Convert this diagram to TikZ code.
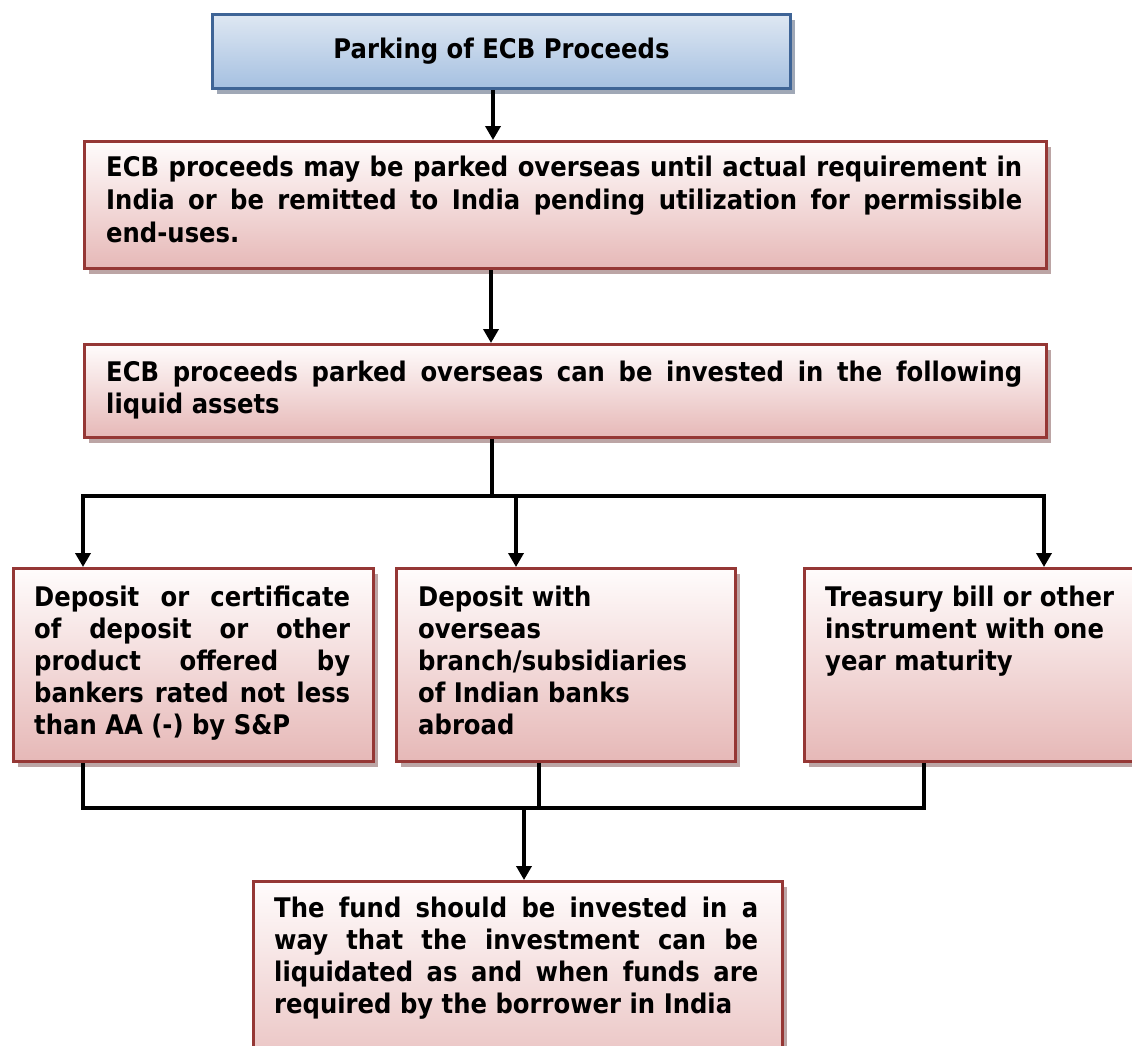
\documentclass[tikz,border=0pt]{standalone}
\usepackage{fontspec}
\setmainfont{DejaVu Sans}[FakeStretch=0.9]
\usetikzlibrary{arrows.meta,shadows}
\definecolor{redborder}{RGB}{149,55,53}
\definecolor{redtop}{RGB}{255,252,252}
\definecolor{redbot}{RGB}{230,184,183}
\definecolor{blueborder}{RGB}{62,100,150}
\definecolor{bluetop}{RGB}{222,231,242}
\definecolor{bluebot}{RGB}{165,192,225}
\definecolor{redshadow}{RGB}{188,165,165}
\definecolor{blueshadow}{RGB}{160,168,182}
\newcommand{\jline}[2]{\makebox[#1][s]{#2}}
\tikzset{
  redbox/.style={draw=redborder, line width=3pt, top color=redtop, bottom color=redbot,
    anchor=north west, inner sep=0pt,
    drop shadow={shadow xshift=4pt, shadow yshift=-5pt, fill=redshadow, opacity=1}},
  bluebox/.style={draw=blueborder, line width=3pt, top color=bluetop, bottom color=bluebot,
    anchor=north west, inner sep=0pt, font=\fontsize{27}{32}\selectfont\bfseries,
    drop shadow={shadow xshift=4pt, shadow yshift=-5pt, fill=blueshadow, opacity=1}},
  txt/.style={inner sep=0pt, anchor=north west, align=left, font=\fontsize{27}{32}\selectfont\bfseries},
  txtw/.style={inner sep=0pt, anchor=north west, align=left, font=\fontsize{27}{33}\selectfont\bfseries},
  ln/.style={draw=black, line width=4pt},
  arr/.style={ln, -{Triangle[length=14pt,width=15pt]}},
  arrboth/.style={ln, {Triangle[length=14pt,width=15pt]}-{Triangle[length=14pt,width=15pt]}}
}
\begin{document}
\begin{tikzpicture}[x=1pt,y=-1pt]
\useasboundingbox (0,0) rectangle (1132,1045);
\clip (0,0) rectangle (1132,1045);
\fill[white] (0,0) rectangle (1132,1045);

% boxes
\node[bluebox, minimum width=578pt, minimum height=74pt] (t) at (211,13) {Parking of ECB Proceeds};
\node[redbox, minimum width=962pt, minimum height=127pt] (b2) at (83,140) {};
\node[redbox, minimum width=962pt, minimum height=93pt] (b3) at (83,343) {};
\node[redbox, minimum width=360pt, minimum height=193pt] (a) at (12,567) {};
\node[redbox, minimum width=339pt, minimum height=193pt] (b) at (395,567) {};
\node[redbox, minimum width=360pt, minimum height=193pt] (c) at (803,567) {};
\node[redbox, minimum width=529pt, minimum height=220pt] (d) at (252,880) {};

% texts
\node[txtw] (b2t) at (106,152.9) {\strut\jline{916pt}{ECB proceeds may be parked overseas until actual requirement in}\\
\jline{916pt}{India or be remitted to India pending utilization for permissible}\\
end-uses.};
\node[txt] (b3t) at (106,358.6) {\strut\jline{916pt}{ECB proceeds parked overseas can be invested in the following}\\
liquid assets};
\node[txt] (at) at (34,583.6) {\strut\jline{316pt}{Deposit or certificate}\\
\jline{316pt}{of deposit or other}\\
\jline{316pt}{product offered by}\\
\jline{316pt}{bankers rated not less}\\
than AA (-) by S\&P};
\node[txt] (bt) at (418,583.6) {\strut Deposit with\\
overseas\\
branch/subsidiaries\\
of Indian banks\\
abroad};
\node[txt] (ct) at (825,583.6) {\strut Treasury bill or other\\
instrument with one\\
year maturity};
\node[txt] (dt) at (274,894.6) {\strut\jline{484pt}{The fund should be invested in a}\\
\jline{484pt}{way that the investment can be}\\
\jline{484pt}{liquidated as and when funds are}\\
required by the borrower in India};

% connector coordinates
\coordinate (x1) at (493,0);
\coordinate (x2) at (491,0);
\coordinate (x3) at (492,494);
\coordinate (hl) at (83,496);
\coordinate (hm) at (516,496);
\coordinate (hr) at (1044,496);
\coordinate (bl) at (83,808);
\coordinate (bm) at (539,808);
\coordinate (br) at (924,808);
\coordinate (bd) at (524,808);

% connectors
\draw[arr] (t.south -| x1) -- (b2.north -| x1);
\draw[arr] (b2.south -| x2) -- (b3.north -| x2);
\draw[ln] (b3.south -| x3) -- (x3);
\draw[arrboth] (a.north -| hl) -- (hl) -- (hr) -- (c.north -| hr);
\draw[arr] (hm) -- (b.north -| hm);
\draw[ln] (a.south -| bl) -- (bl) -- (br) -- (c.south -| br);
\draw[ln] (b.south -| bm) -- (bm);
\draw[arr] (bd) -- (d.north -| bd);
\end{tikzpicture}
\end{document}
